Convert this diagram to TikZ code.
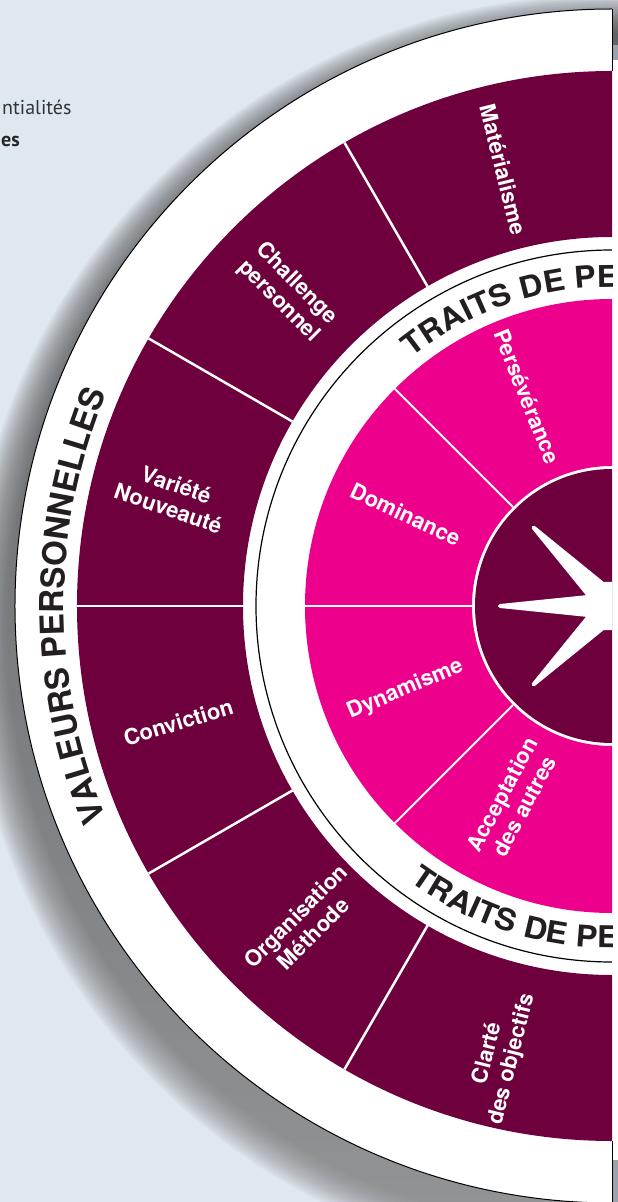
\documentclass[tikz,border=0pt]{standalone}
\usepackage{fontspec}
\setmainfont{TeX Gyre Heros}
\newfontfamily\sidefont{PT Sans}
\newfontfamily\ringfamily[FakeStretch=1.08]{TeX Gyre Heros}
\usetikzlibrary{decorations.text}

\definecolor{wine}{HTML}{6E003D}
\definecolor{fuchsia}{HTML}{EC008C}
\definecolor{pagebg}{HTML}{DFE7EF}
\definecolor{shade}{HTML}{56616C}
\definecolor{ink}{HTML}{231F20}

\newcommand{\labelfont}{\bfseries\fontsize{22}{25}\selectfont}
\newcommand{\ringfont}{\ringfamily\bfseries\fontsize{30}{30}\selectfont}
\newcommand{\valeurfont}{\bfseries\fontsize{33}{33}\selectfont}

\begin{document}
\begin{tikzpicture}
            [x=1pt, y=1pt,
            wheel label/.style={text=white, font=\labelfont, align=center, inner sep=0pt},
            band divider/.style={draw=white, line width=2.5pt},
            ring title/.style={decorate, decoration={text along path, text align=center, text color=ink}}]
            \useasboundingbox (-612,-596) rectangle (6,606);
            \fill[pagebg] (-612,-596) rectangle (6,606);
            % soft shadow of the wheel
            \foreach \k in {0,...,19}
                \fill[shade, opacity=0.03] (-6,-26) circle ({637-2*\k});
            \fill[shade!50!pagebg] (0,-596) rectangle (6,561);
            \fill[white] (0,-554) rectangle (6,546);
            \begin{scope}
                \clip (-612,-596) rectangle (0,606);
                \filldraw[fill=white, draw=black, line width=1pt] (0,0) circle (597);
                \fill[wine, even odd rule] (0,0) circle (535) (0,0) circle (369);
                \draw[black, line width=1.2pt] (0,0) circle (356);
                \fill[fuchsia, even odd rule] (0,0) circle (307) (0,0) circle (140);
                \fill[wine] (0,0) circle (137);
                \foreach \a in {120,150,...,240}
                    \draw[band divider] (\a:369) -- (\a:535);
                \foreach \a in {135,180,225}
                    \draw[band divider, line width=2pt] (\a:140) -- (\a:307);
                % star in the middle
                \filldraw[white, line width=4pt, line join=round]
                    (67.5:24) -- (112.5:24) -- (135:111) -- (157.5:24) -- (180:112) -- (202.5:24)
                    -- (225:111) -- (247.5:24) -- (292.5:24) -- cycle;
                % outer band
                \node[wheel label, rotate=-76] (materialisme) at (104:450) {Matérialisme};
                \node[wheel label, rotate=-45] (challenge) at (136:451) {Challenge\\personnel};
                \node[wheel label, rotate=-19] (variete) at (166:453) {Variété\\Nouveauté};
                \node[wheel label, rotate=17] (conviction) at (195:449) {Conviction};
                \node[wheel label, rotate=45] (organisation) at (226:443) {Organisation\\Méthode};
                \node[wheel label, rotate=76] (clarte) at (256:464) {Clarté\\des objectifs};
                % inner band
                \node[wheel label, rotate=-68] (perseverance) at (112:226) {Persévérance};
                \node[wheel label, rotate=-25] (dominance) at (156:226) {Dominance};
                \node[wheel label, rotate=23] (dynamisme) at (202:223) {Dynamisme};
                \node[wheel label, rotate=62] (acceptation) at (243:218) {Acceptation\\des autres};
                % titles round the rings
                \path[ring title, decoration={text={|\ringfont|TRAITS DE PERSONNALITÉ}}]
                    (150:319) arc[start angle=150, end angle=30, radius=319];
                \path[ring title, decoration={text={|\ringfont|TRAITS DE PERSONNALITÉ}}]
                    (210:342) arc[start angle=210, end angle=330, radius=342];
                \path[ring title, decoration={text={|\valeurfont|VALEURS PERSONNELLES}}]
                    (225:548) arc[start angle=225, end angle=135, radius=548];
            \end{scope}
            \draw[black, line width=0.8pt] (0,535) -- (0,597);
            \draw[black, line width=0.8pt] (0,-535) -- (0,-597);
            \node[anchor=base west, inner sep=0pt, text=black!80, font=\sidefont\fontsize{20}{20}\selectfont] (potentialites) at (-610,491) {ntialités};
            \node[anchor=base west, inner sep=0pt, text=black!85, font=\sidefont\bfseries\fontsize{20}{20}\selectfont] (suffixe) at (-611,459) {es};
\end{tikzpicture}
\end{document}
